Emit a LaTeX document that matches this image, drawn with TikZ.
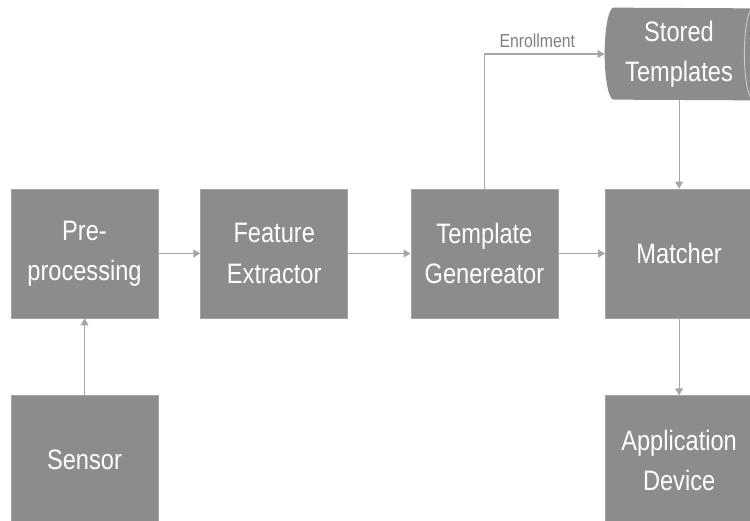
\documentclass[tikz,border=0pt]{standalone}
\usepackage{fontspec}
\setmainfont{Liberation Sans}[FakeStretch=0.84]
\usetikzlibrary{positioning, arrows.meta, backgrounds}
\definecolor{boxgray}{HTML}{8C8C8C}
\definecolor{linegray}{HTML}{A6A6A6}
\definecolor{labelgray}{HTML}{808080}
\begin{document}
\begin{tikzpicture}[>={Triangle[length=4pt, width=4.5pt]}]
    \tikzstyle{block} = [rectangle, fill=boxgray, draw=boxgray!80, text=white, align=center,
                                      minimum width=2.94cm, minimum height=2.58cm, inner sep=0pt,
                                      font=\fontsize{16}{23}\selectfont]
    \tikzstyle{store} = [rectangle, text=white, align=center, minimum width=2.96cm,
                                      minimum height=1.84cm, inner sep=0pt, font=\fontsize{16}{23}\selectfont]
    \tikzstyle{link} = [->, draw=linegray, line width=0.6pt]
  \useasboundingbox (0,0) rectangle (15,-10.42);
  \node[block](pre) at (1.69,-5.07){Pre-\\processing};
  \node[block, right=0.84cm of pre](feat){Feature\\Extractor};
  \node[block, right=1.25cm of feat](tmpl){Template\\Genereator};
  \node[block, right=0.94cm of tmpl](match){Matcher};
  \node[block, below=1.54cm of pre](sensor){Sensor};
  \node[block, below=1.54cm of match](app){Application\\Device};
  \node[store](stored) at (13.58,-1.08){Stored\\Templates};
  % stored data outline behind the text
  \begin{scope}[on background layer]
    \fill[boxgray] ([xshift=0.18cm]stored.north west) arc[start angle=90, end angle=270, x radius=0.18cm, y radius=0.92cm]
      -- (stored.south east) arc[start angle=-90, end angle=90, x radius=0.18cm, y radius=0.92cm] -- cycle;
    \draw[white!80!black, line width=0.5pt] (stored.north east) arc[start angle=90, end angle=270, x radius=0.18cm, y radius=0.92cm];
  \end{scope}
  \draw[link] (sensor) -- (pre);
  \draw[link] (pre) -- (feat);
  \draw[link] (feat) -- (tmpl);
  \draw[link] (tmpl) -- (match);
  \draw[link] (tmpl.north) |- node[pos=0.72, above, text=labelgray, font=\fontsize{10.7}{12}\selectfont]{Enrollment} (stored.west);
  \draw[link] (stored.south -| match.north) -- (match.north);
  \draw[link] (match) -- (app);
  \end{tikzpicture}
\end{document}
